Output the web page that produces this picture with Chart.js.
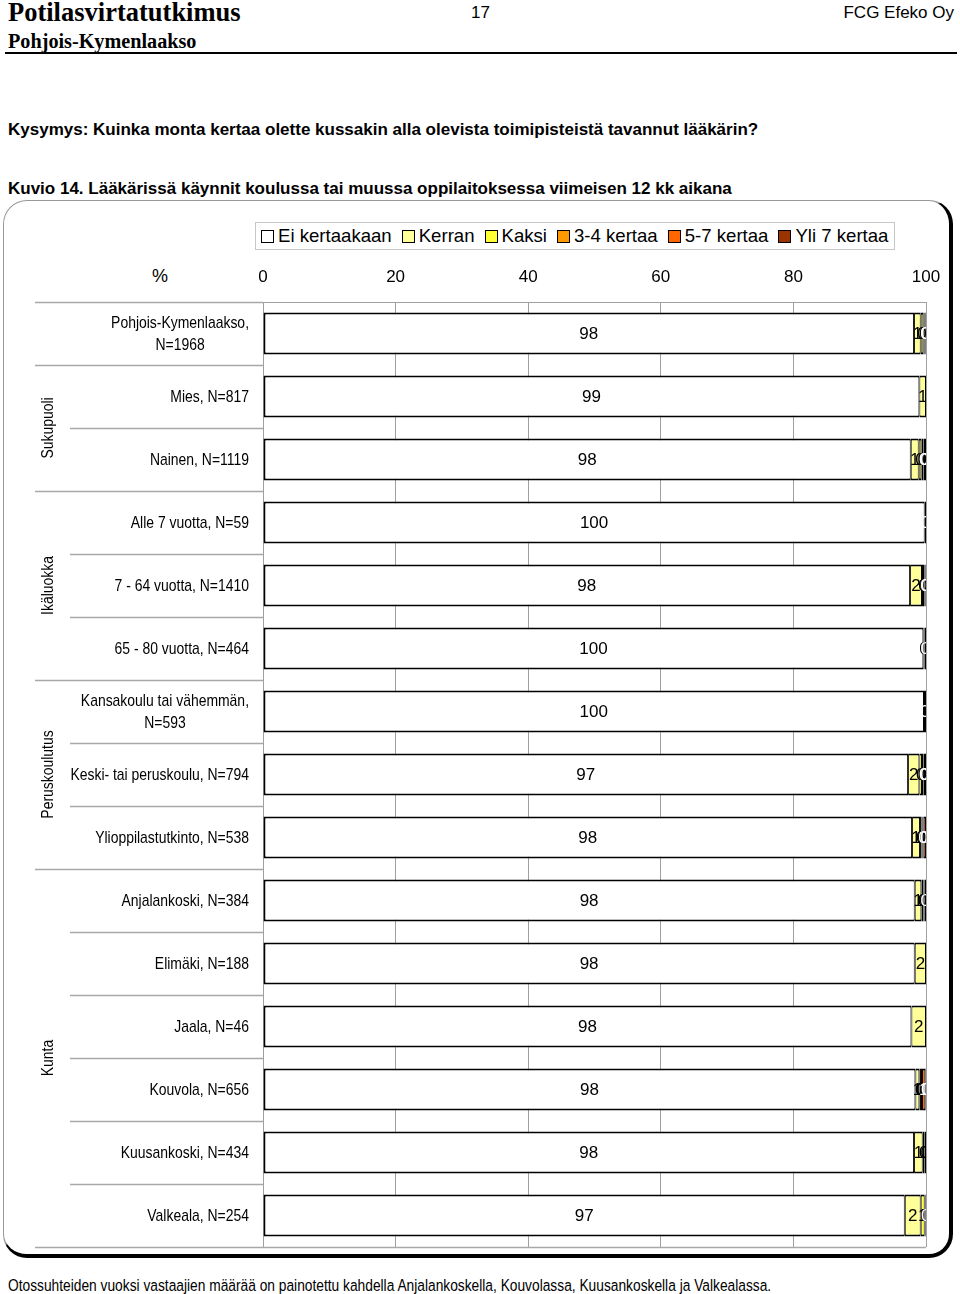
<!DOCTYPE html>
<html>
<head>
<meta charset="utf-8">
<script src="https://cdn.jsdelivr.net/npm/chart.js@4/dist/chart.umd.min.js"></script>
<style>
  html, body { margin:0; padding:0; background:#fff; }
  body { width:960px; height:1294px; position:relative; overflow:hidden; font-family:"Liberation Sans", Arial, sans-serif; color:#000; }
  .abs { position:absolute; white-space:nowrap; }
  #frame { position:absolute; left:3px; top:200px; width:945px; height:1053px; border-left:1px solid #999; border-top:1px solid #999; border-right:4px solid #000; border-bottom:4px solid #000; border-radius:24px; }
  #legend { position:absolute; left:255px; top:222px; width:640px; height:28px; border:1px solid #c8c8c8; display:flex; align-items:center; padding-left:5px; box-sizing:border-box; font-size:18.6px; white-space:nowrap; }
  .li { display:flex; align-items:center; margin-right:10px; flex-shrink:0; white-space:nowrap; }
  .sw { width:11px; height:11px; border:1.5px solid #000; margin-right:4px; flex-shrink:0; }
  canvas { position:absolute; left:0; top:0; }
</style>
</head>
<body>
<div class="abs" style="left:8px; top:-4px; font:bold 26.5px 'Liberation Serif', serif; line-height:32px;">Potilasvirtatutkimus</div>
<div class="abs" style="left:471px; top:2px; font-size:17px; line-height:22px;">17</div>
<div class="abs" style="right:6px; top:2px; font-size:17px; line-height:22px;">FCG Efeko Oy</div>
<div class="abs" style="left:8px; top:29px; font:bold 20.2px 'Liberation Serif', serif; line-height:25px;">Pohjois-Kymenlaakso</div>
<div class="abs" style="left:5px; top:52px; width:952px; height:2px; background:#000;"></div>
<div class="abs" style="left:8px; top:119px; font-weight:bold; font-size:17px; line-height:21px;">Kysymys: Kuinka monta kertaa olette kussakin alla olevista toimipisteistä tavannut lääkärin?</div>
<div class="abs" style="left:8px; top:178px; font-weight:bold; font-size:17px; line-height:21px;">Kuvio 14. Lääkärissä käynnit koulussa tai muussa oppilaitoksessa viimeisen 12 kk aikana</div>
<div id="frame"></div>
<div id="legend"></div>
<div class="abs" style="left:152px; top:265px; font-size:18px; line-height:22px;">%</div>
<div class="abs" style="left:8px; top:1276px; font-size:16.8px; line-height:20px; transform:scaleX(0.82); transform-origin:0 0;">Otossuhteiden vuoksi vastaajien määrää on painotettu kahdella Anjalankoskella, Kouvolassa, Kuusankoskella ja Valkealassa.</div>
<canvas id="c" width="960" height="1294"></canvas>
<script>
// ---- data ----
const categories = [
  ["Pohjois-Kymenlaakso,", "N=1968"],
  ["Mies, N=817"],
  ["Nainen, N=1119"],
  ["Alle 7 vuotta, N=59"],
  ["7 - 64 vuotta, N=1410"],
  ["65 - 80 vuotta, N=464"],
  ["Kansakoulu tai vähemmän,", "N=593"],
  ["Keski- tai peruskoulu, N=794"],
  ["Ylioppilastutkinto, N=538"],
  ["Anjalankoski, N=384"],
  ["Elimäki, N=188"],
  ["Jaala, N=46"],
  ["Kouvola, N=656"],
  ["Kuusankoski, N=434"],
  ["Valkeala, N=254"]
];
const seriesNames = ["Ei kertaakaan", "Kerran", "Kaksi", "3-4 kertaa", "5-7 kertaa", "Yli 7 kertaa"];
const eiKertaakaan = [98.2, 99.0, 97.7, 99.8, 97.6, 99.6, 99.7, 97.3, 97.9, 98.3, 98.3, 97.8, 98.4, 98.2, 96.8];
const kerran       = [1.0, 1.0, 1.2, 0, 1.8, 0.2, 0, 1.7, 1.2, 1.0, 1.7, 2.2, 0.6, 1.3, 2.4];
const kaksi        = [0.4, 0, 0.4, 0, 0.3, 0, 0, 0.4, 0.2, 0.3, 0, 0, 0.1, 0.3, 0.6];
const kertaa34     = [0.2, 0, 0.3, 0, 0.1, 0, 0, 0.2, 0.2, 0.2, 0, 0, 0.3, 0.2, 0.1];
const kertaa57     = [0.1, 0, 0.1, 0, 0.1, 0, 0, 0.1, 0.1, 0, 0, 0, 0.5, 0, 0.1];
const yli7         = [0.1, 0, 0.3, 0.2, 0.1, 0.2, 0.3, 0.3, 0.4, 0.2, 0, 0, 0.1, 0, 0];
const xTicks = [0, 20, 40, 60, 80, 100];
const groupNames = ["Sukupuoli", "Ikäluokka", "Peruskoulutus", "Kunta"];
const groupStart = [1, 3, 6, 9];
const groupEnd   = [2, 5, 8, 14];

// ---- styles ----
const colors = ["#FFFFFF", "#FFFF99", "#FFFF33", "#FF9900", "#FF6600", "#993300"];
const labelColors = ["#000", "#000", "#000", "#000", "#fff", "#fff"];
const NARROW = 0.82;

// legend (HTML)
const lg = document.getElementById('legend');
seriesNames.forEach((n, i) => {
  const d = document.createElement('div'); d.className = 'li';
  const s = document.createElement('div'); s.className = 'sw'; s.style.background = colors[i];
  const t = document.createElement('span'); t.textContent = n;
  d.appendChild(s); d.appendChild(t); lg.appendChild(d);
});

const allSeries = [eiKertaakaan, kerran, kaksi, kertaa34, kertaa57, yli7];

function narrowText(ctx, text, x, y, align, rot) {
  ctx.save();
  ctx.translate(x, y);
  if (rot) ctx.rotate(rot);
  ctx.scale(NARROW, 1);
  ctx.textAlign = align; ctx.textBaseline = 'middle';
  ctx.fillText(text, 0, 0);
  ctx.restore();
}

const decor = {
  id: 'decor',
  afterDraw(chart) {
    const ctx = chart.ctx, ca = chart.chartArea, y = chart.scales.y;
    ctx.save();
    const boundaries = [];
    for (let i = 0; i < categories.length - 1; i++) {
      const yy = (y.getPixelForValue(i) + y.getPixelForValue(i + 1)) / 2;
      boundaries.push({ y: yy, long: groupStart.includes(i + 1) || i === 0 });
    }
    ctx.strokeStyle = '#a8a8a8'; ctx.lineWidth = 1.5;
    boundaries.forEach(b => {
      ctx.beginPath(); ctx.moveTo(b.long ? 35 : 70, Math.round(b.y) + 0.5); ctx.lineTo(ca.left, Math.round(b.y) + 0.5); ctx.stroke();
    });
    ctx.beginPath(); ctx.moveTo(35, ca.top + 0.5); ctx.lineTo(ca.left, ca.top + 0.5); ctx.stroke();
    ctx.beginPath(); ctx.moveTo(35, ca.bottom + 0.5); ctx.lineTo(ca.right, ca.bottom + 0.5); ctx.stroke();
    ctx.fillStyle = '#000';
    ctx.font = '17px "Liberation Sans", Arial, sans-serif';
    categories.forEach((lines, i) => {
      const cy = y.getPixelForValue(i) + 1;
      const lh = 22;
      const w = Math.max(...lines.map(l => ctx.measureText(l).width)) * NARROW;
      const right = ca.left - 14;
      lines.forEach((l, k) => {
        const ly = cy + (k - (lines.length - 1) / 2) * lh;
        if (lines.length === 1) narrowText(ctx, l, right, ly, 'right');
        else narrowText(ctx, l, right - w / 2, ly, 'center');
      });
    });
    groupNames.forEach((g, k) => {
      const cy = (y.getPixelForValue(groupStart[k]) + y.getPixelForValue(groupEnd[k])) / 2;
      narrowText(ctx, g, 48, cy, 'center', -Math.PI / 2);
    });
    ctx.restore();
  },
  afterDatasetsDraw(chart) {
    const ctx = chart.ctx, ca = chart.chartArea;
    ctx.save();
    ctx.beginPath(); ctx.rect(ca.left, ca.top, ca.right - ca.left, ca.bottom - ca.top); ctx.clip();
    ctx.font = '17px "Liberation Sans", Arial, sans-serif';
    ctx.textAlign = 'center'; ctx.textBaseline = 'middle';
    chart.data.datasets.forEach((ds, di) => {
      const meta = chart.getDatasetMeta(di);
      meta.data.forEach((el, i) => {
        const v = ds.data[i];
        if (!(v > 0)) return;
        ctx.fillStyle = labelColors[di];
        ctx.fillText(String(Math.round(v)), (el.x + el.base) / 2, el.y + 1);
      });
    });
    ctx.restore();
  }
};

new Chart(document.getElementById('c'), {
  type: 'bar',
  data: {
    labels: categories.map(c => c.join(' ')),
    datasets: allSeries.map((d, i) => ({
      label: seriesNames[i], data: d, backgroundColor: colors[i],
      borderColor: '#000',
      borderWidth: { top: 2, bottom: 2, left: i === 0 ? 2 : 1, right: 1 },
      borderSkipped: false,
      barPercentage: 0.667, categoryPercentage: 1
    }))
  },
  options: {
    indexAxis: 'y', responsive: false, animation: false, devicePixelRatio: 1,
    layout: { padding: { top: 250, right: 34, bottom: 47, left: 0 } },
    plugins: { legend: { display: false }, tooltip: { enabled: false } },
    scales: {
      x: {
        position: 'top', stacked: true, min: 0, max: 100,
        afterBuildTicks: s => { s.ticks = xTicks.map(v => ({ value: v })); },
        afterFit: s => { s.height = 52; },
        ticks: { padding: 14, color: '#000', font: { size: 17, family: '"Liberation Sans", Arial, sans-serif' } },
        grid: { color: '#a0a0a0', lineWidth: 1, drawTicks: false },
        border: { color: '#a0a0a0', width: 1 }
      },
      y: {
        stacked: true,
        afterFit: s => { s.width = 263; },
        ticks: { display: false },
        grid: { display: false },
        border: { display: false }
      }
    }
  },
  plugins: [decor]
});
</script>
</body>
</html>
